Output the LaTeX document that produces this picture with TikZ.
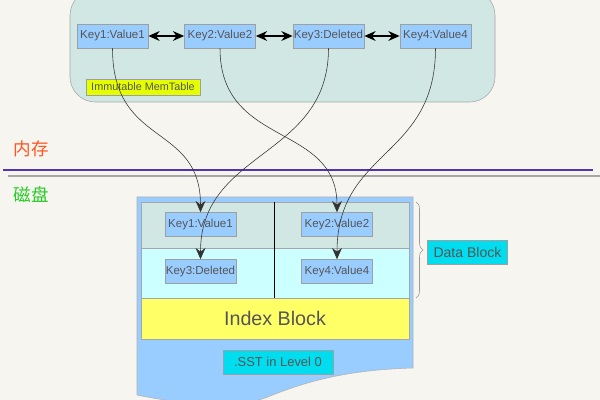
\documentclass[tikz,border=0pt]{standalone}
\usepackage{fontspec}
\setmainfont{Liberation Sans}
\newfontfamily\cjkfont{Noto Sans CJK SC}
\usetikzlibrary{arrows.meta,decorations.pathreplacing}

\definecolor{bgcol}{HTML}{F6F5F0}
\definecolor{memcol}{HTML}{D0E7E3}
\definecolor{keycol}{HTML}{99CCFF}
\definecolor{txtcol}{HTML}{555555}
\definecolor{rowcol}{HTML}{CCFFFF}
\definecolor{idxcol}{HTML}{FFFF66}
\definecolor{labcol}{HTML}{00DDEE}
\definecolor{limecol}{HTML}{E6FF00}
\definecolor{memred}{HTML}{FF5522}
\definecolor{diskgreen}{HTML}{22CC22}
\definecolor{linecol}{HTML}{5533AA}

\begin{document}
\begin{tikzpicture}[x=0.025cm, y=-0.025cm,
    keybox/.style={draw=gray!75, fill=keycol, text=txtcol, inner sep=0pt,
        font=\fontsize{8.2}{9}\selectfont, minimum width=1.78cm, minimum height=0.6cm},
    tagbox/.style={draw=gray!75, fill=labcol, text=txtcol, inner sep=0pt},
    link/.style={-{Stealth[length=8pt,width=7pt]}, black!80},
    twoway/.style={{Stealth[length=8pt,width=7pt]}-{Stealth[length=8pt,width=7pt]}, black, thick}]
    \useasboundingbox (0,0) rectangle (600,400);
    \fill[bgcol] (0,0) rectangle (600,400);

    % Immutable MemTable
    \draw[draw=gray!70, fill=memcol, rounded corners=18] (70,-10) rectangle (495,102);
    \node[keybox] (mk1) at (112.5,36) {Key1:Value1};
    \node[keybox] (mk2) at (220,36) {Key2:Value2};
    \node[keybox] (mk3) at (328.5,36) {Key3:Deleted};
    \node[keybox] (mk4) at (435.5,36) {Key4:Value4};
    \draw[twoway] (mk1) -- (mk2);
    \draw[twoway] (mk2) -- (mk3);
    \draw[twoway] (mk3) -- (mk4);
    \node[draw=gray!75, fill=limecol, text=txtcol, inner sep=0pt,
        font=\fontsize{7.7}{8}\selectfont, minimum width=2.85cm, minimum height=0.4cm]
        (memlabel) at (143,87) {Immutable MemTable};

    % Trennlinie
    \draw[linecol, line width=1.8pt] (3,170) -- (593,170);
    \draw[gray!70, line width=1.8pt] (8,176) -- (600,176);
    \node[text=memred, font=\cjkfont\fontsize{12.5}{14}\selectfont] (memtxt) at (31,149) {内存};
    \node[text=diskgreen, font=\cjkfont\fontsize{12.5}{14}\selectfont] (disktxt) at (31,195) {磁盘};

    % SST file
    \draw[draw=gray!60, fill=keycol] (137,197) -- (413,197) -- (413,368)
        .. controls (340,370) and (300,384) .. (265,398)
        .. controls (230,410) and (170,402) .. (137,395) -- cycle;
    \draw[draw=gray!70, fill=memcol] (141,202) rectangle (409,248);
    \draw[draw=gray!70, fill=rowcol] (141,248) rectangle (409,298);
    \draw[black] (274,202) -- (274,298);
    \node[draw=gray!70, fill=idxcol, text=txtcol, inner sep=0pt,
        font=\fontsize{14}{16}\selectfont, minimum width=6.7cm, minimum height=1.025cm]
        (index) at (275,318.5) {Index Block};
    \node[tagbox, font=\fontsize{9.2}{10}\selectfont, minimum width=2.75cm, minimum height=0.6cm]
        (sstlabel) at (278,362) {.SST in Level 0};
    \node[keybox] (sk1) at (200.5,224.5) {Key1:Value1};
    \node[keybox] (sk2) at (337,224.5) {Key2:Value2};
    \node[keybox] (sk3) at (200.5,271.5) {Key3:Deleted};
    \node[keybox] (sk4) at (337,271.5) {Key4:Value4};

    % Data Block
    \draw[gray!80, decorate, decoration={brace, amplitude=5pt}] (416,202) -- (416,298);
    \node[tagbox, font=\fontsize{10}{11}\selectfont, minimum width=2cm, minimum height=0.6cm]
        (dblabel) at (467.5,252) {Data Block};

    % flush
    \draw[link] (mk1.south) .. controls +(0,100) and +(0,-90) .. (sk1.north);
    \draw[link] (mk3.south) .. controls +(0,110) and +(0,-110) .. (sk3.north);
    \draw[link] (mk2.south) .. controls +(0,100) and +(0,-90) .. (sk2.north);
    \draw[link] (mk4.south) .. controls +(0,110) and +(0,-110) .. (sk4.north);
\end{tikzpicture}
\end{document}
